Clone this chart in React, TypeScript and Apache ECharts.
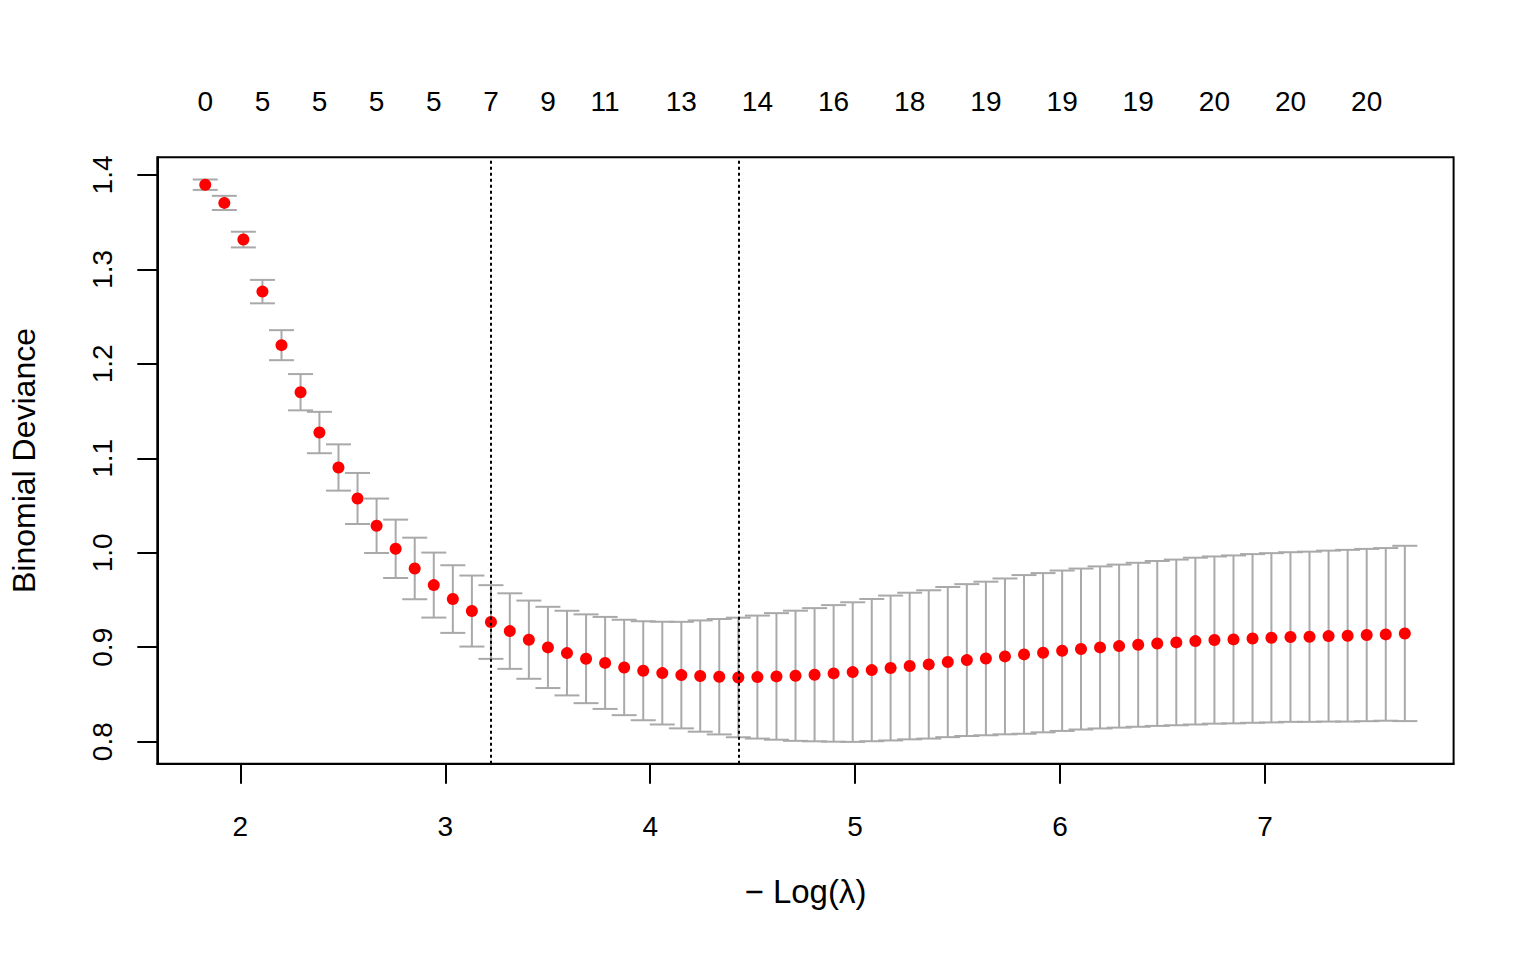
import React, { useEffect, useRef } from "react";
import * as echarts from "echarts";

// -log(lambda) for each fitted lambda
const logLambda = [
  1.829, 1.922, 2.015, 2.108, 2.201, 2.294, 2.386, 2.479, 2.572, 2.665,
  2.758, 2.851, 2.944, 3.037, 3.13, 3.223, 3.315, 3.408, 3.501, 3.594,
  3.687, 3.78, 3.873, 3.966, 4.059, 4.152, 4.244, 4.337, 4.43, 4.523,
  4.616, 4.709, 4.802, 4.895, 4.988, 5.081, 5.173, 5.266, 5.359, 5.452,
  5.545, 5.638, 5.731, 5.824, 5.917, 6.01, 6.102, 6.195, 6.288, 6.381,
  6.474, 6.567, 6.66, 6.753, 6.846, 6.939, 7.031, 7.124, 7.217, 7.31,
  7.403, 7.496, 7.589, 7.682,
];

// mean cross-validated binomial deviance
const cvMean = [
  1.3897, 1.3704, 1.3316, 1.2765, 1.2198, 1.17, 1.1273, 1.0903, 1.0575, 1.0286,
  1.0042, 0.9834, 0.9658, 0.951, 0.9383, 0.9267, 0.9171, 0.908, 0.8998, 0.8938,
  0.8878, 0.8834, 0.8786, 0.8751, 0.8726, 0.8705, 0.8695, 0.8688, 0.868, 0.8684,
  0.8691, 0.8698, 0.8709, 0.8723, 0.8737, 0.8758, 0.878, 0.8801, 0.8818, 0.8843,
  0.8864, 0.8881, 0.8903, 0.8924, 0.8942, 0.8963, 0.8981, 0.8998, 0.9012, 0.9026,
  0.904, 0.9051, 0.9065, 0.9076, 0.9083, 0.9093, 0.91, 0.9108, 0.9111, 0.9118,
  0.9122, 0.9129, 0.9136, 0.9146,
];

// standard error of the CV deviance
const cvSE = [
  0.0055, 0.0075, 0.0083, 0.0124, 0.0159, 0.0192, 0.0219, 0.0245, 0.027, 0.0288,
  0.0309, 0.0326, 0.0344, 0.0358, 0.0376, 0.039, 0.04, 0.0414, 0.043, 0.0448,
  0.047, 0.0487, 0.0505, 0.0524, 0.0544, 0.0564, 0.0589, 0.0611, 0.0633, 0.0651,
  0.067, 0.0689, 0.0705, 0.0723, 0.0739, 0.0753, 0.0767, 0.0776, 0.0785, 0.0795,
  0.0804, 0.0813, 0.0825, 0.084, 0.0843, 0.0849, 0.0852, 0.0858, 0.0863, 0.0868,
  0.0873, 0.0877, 0.0883, 0.0885, 0.0889, 0.0893, 0.0896, 0.0898, 0.0901, 0.0905,
  0.0909, 0.0912, 0.0914, 0.0928,
];

const xTicks = [2, 3, 4, 5, 6, 7];
const yTicks = [0.8, 0.9, 1.0, 1.1, 1.2, 1.3, 1.4];

// number of non-zero coefficients shown along the top
const topLabelX = [
  1.829, 2.108, 2.386, 2.665, 2.944, 3.223, 3.501, 3.78, 4.152, 4.523,
  4.895, 5.266, 5.638, 6.01, 6.381, 6.753, 7.124, 7.496,
];
const topLabels = [
  "0", "5", "5", "5", "5", "7", "9", "11", "13", "14",
  "16", "18", "19", "19", "19", "20", "20", "20",
];

const lambda1se = 3.223;
const lambdaMin = 4.43;

const FONT = "'Liberation Sans', Arial, Helvetica, sans-serif";

export default function App() {
  const ref = useRef<HTMLDivElement>(null);

  useEffect(() => {
    if (!ref.current) return;
    const chart = echarts.init(ref.current, null, { renderer: "svg" });

    const xMin = 1.595;
    const xMax = 7.92;
    const yMin = 0.7767;
    const yMax = 1.4187;

    const barData = logLambda.map((x, i) => [x, cvMean[i] - cvSE[i], cvMean[i] + cvSE[i]]);
    const pointData = logLambda.map((x, i) => [x, cvMean[i]]);

    const option: any = {
      animation: false,
      backgroundColor: "#ffffff",
      textStyle: { fontFamily: FONT },
      grid: {
        left: 157.3,
        top: 157.3,
        width: 1296.3,
        height: 606.4,
        show: true,
        borderColor: "#000",
        borderWidth: 2,
        backgroundColor: "transparent",
        containLabel: false,
        outerBoundsMode: "none",
      },
      xAxis: [
        {
          type: "value",
          position: "bottom",
          min: xMin,
          max: xMax,
          splitLine: { show: false },
          axisLine: { show: true, onZero: false, lineStyle: { color: "#000", width: 2 } },
          axisTick: {
            show: true,
            inside: false,
            length: 20,
            customValues: xTicks,
            lineStyle: { color: "#000", width: 2 },
          },
          axisLabel: {
            customValues: xTicks,
            margin: 49,
            fontSize: 28,
            color: "#000",
            fontFamily: FONT,
            formatter: (v: number) => String(Math.round(v)),
          },
          name: "\u2212 Log(\u03bb)",
          nameLocation: "middle",
          nameGap: 111,
          nameTextStyle: { fontSize: 33, color: "#000", fontFamily: FONT },
        },
        {
          type: "value",
          position: "top",
          min: xMin,
          max: xMax,
          splitLine: { show: false },
          axisLine: { show: false },
          axisTick: { show: false },
          axisLabel: {
            customValues: topLabelX,
            margin: 42,
            fontSize: 28,
            color: "#000",
            fontFamily: FONT,
            formatter: (v: number) => {
              const idx = topLabelX.findIndex((t) => Math.abs(t - v) < 1e-6);
              return idx >= 0 ? topLabels[idx] : "";
            },
          },
        },
      ],
      yAxis: {
        type: "value",
        min: yMin,
        max: yMax,
        splitLine: { show: false },
        axisLine: { show: true, onZero: false, lineStyle: { color: "#000", width: 2 } },
        axisTick: {
          show: true,
          inside: false,
          length: 20,
          customValues: yTicks,
          lineStyle: { color: "#000", width: 2 },
        },
        axisLabel: {
          customValues: yTicks,
          rotate: 90,
          margin: 41,
          fontSize: 28,
          color: "#000",
          fontFamily: FONT,
          formatter: (v: number) => v.toFixed(1),
        },
        name: "Binomial Deviance",
        nameLocation: "middle",
        nameRotate: 90,
        nameGap: 117,
        nameTextStyle: { fontSize: 32, color: "#000", fontFamily: FONT },
      },
      series: [
        {
          type: "custom",
          name: "se",
          xAxisIndex: 0,
          yAxisIndex: 0,
          silent: true,
          z: 2,
          encode: { x: 0, y: [1, 2] },
          data: barData,
          renderItem: (params: any, api: any) => {
            const x = api.value(0);
            const lo = api.value(1);
            const hi = api.value(2);
            const pHi = api.coord([x, hi]);
            const pLo = api.coord([x, lo]);
            const w = 12.5;
            const style = { stroke: "#A9A9A9", lineWidth: 2 };
            return {
              type: "group",
              children: [
                { type: "line", shape: { x1: pHi[0], y1: pHi[1], x2: pLo[0], y2: pLo[1] }, style },
                { type: "line", shape: { x1: pHi[0] - w, y1: pHi[1], x2: pHi[0] + w, y2: pHi[1] }, style },
                { type: "line", shape: { x1: pLo[0] - w, y1: pLo[1], x2: pLo[0] + w, y2: pLo[1] }, style },
              ],
            };
          },
        },
        {
          type: "scatter",
          name: "cvm",
          xAxisIndex: 0,
          yAxisIndex: 0,
          symbol: "circle",
          symbolSize: 12,
          itemStyle: { color: "#ff0000", opacity: 1 },
          z: 3,
          data: pointData,
        },
        {
          type: "line",
          name: "lambda",
          xAxisIndex: 0,
          yAxisIndex: 0,
          data: [],
          z: 5,
          markLine: {
            silent: true,
            symbol: "none",
            label: { show: false },
            lineStyle: { color: "#000", type: [3, 3], width: 2 },
            emphasis: { disabled: true },
            data: [{ xAxis: lambda1se }, { xAxis: lambdaMin }],
          },
        },
      ],
    };

    chart.setOption(option);
    return () => {
      chart.dispose();
    };
  }, []);

  return (
    <div
      ref={ref}
      style={{ position: "fixed", left: 0, top: 0, width: 1536, height: 960, background: "#fff" }}
    />
  );
}
